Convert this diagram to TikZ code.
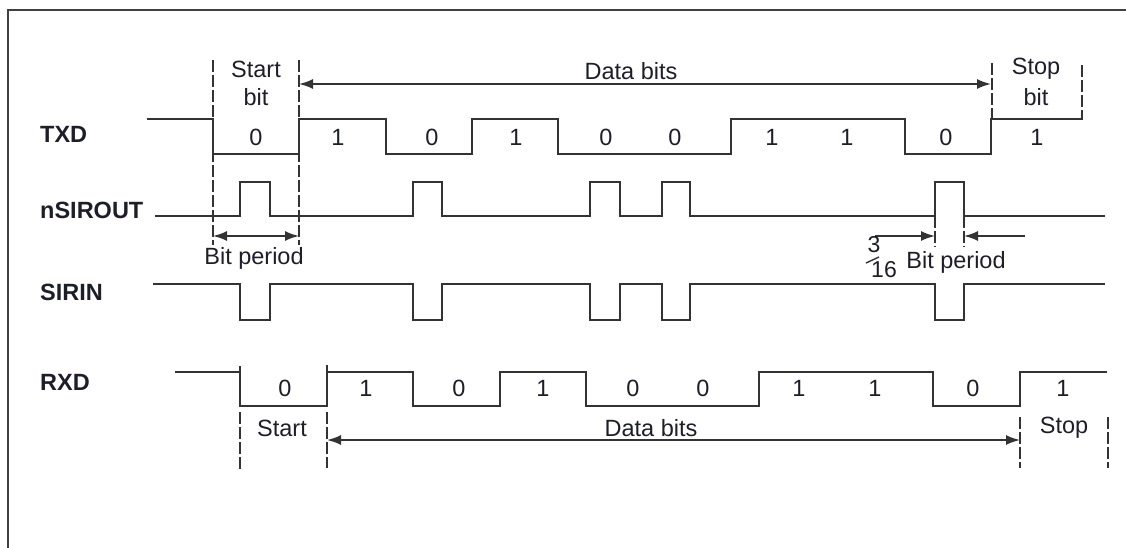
\documentclass[tikz,border=0pt]{standalone}
\usepackage{fontspec}
\setmainfont{Liberation Sans}
\usetikzlibrary{arrows.meta}
\definecolor{wavecol}{HTML}{333333}
\definecolor{txtcol}{HTML}{1E1E2A}
\definecolor{framecol}{HTML}{404040}
\begin{document}
\begin{tikzpicture}[x=1pt,y=-1pt,
  wave/.style={line width=2pt, draw=wavecol},
  guide/.style={line width=1.6pt, draw=wavecol, dash pattern=on 12pt off 3pt},
  dimline/.style={line width=1.8pt, draw=wavecol, {Latex[length=14pt,width=10pt]}-{Latex[length=14pt,width=10pt]}},
  dimone/.style={line width=1.8pt, draw=wavecol, -{Latex[length=14pt,width=10pt]}},
  sig/.style={font=\fontsize{23.5}{28}\selectfont\bfseries, anchor=west, text=txtcol, inner sep=0pt},
  lbl/.style={font=\fontsize{23.5}{27}\selectfont, text=txtcol, inner sep=0pt},
  fraclbl/.style={font=\fontsize{23}{26}\selectfont, text=txtcol, inner sep=0pt},
]
\useasboundingbox (0,0) rectangle (1126,548);
% frame (cropped)
\draw[line width=2pt, draw=framecol] (8,548) -- (8,10) -- (1126,10);

% signal names
\node[sig] (ltxd) at (40,134) {TXD};
\node[sig] (lnsir) at (40,210) {nSIROUT};
\node[sig] (lsirin) at (40,292) {SIRIN};
\node[sig] (lrxd) at (40,382) {RXD};

% guides (dashed)
\draw[guide] (213,60) -- (213,245);
\draw[guide] (299,60) -- (299,245);
\draw[guide] (992,63) -- (992,119);
\draw[guide] (1082,65) -- (1082,120);
\draw[guide] (935,216) -- (935,247);
\draw[guide] (964,216) -- (964,247);
\draw[guide] (240,412) -- (240,470);
\draw[guide] (327,412) -- (327,468);
\draw[guide] (1020,417) -- (1020,468);
\draw[guide] (1108,417) -- (1108,468);
\draw[wave] (240,366) -- (240,372);
\draw[wave] (327,365) -- (327,372);

% TXD
\draw[wave] (147,119) -- (213,119) -- (213,154) -- (299,154) -- (299,119) -- (386,119) -- (386,154) -- (472,154) -- (472,119) -- (558,119) -- (558,154) -- (731,154) -- (731,119) -- (905,119) -- (905,154) -- (991,154) -- (991,119) -- (1081,119);

% nSIROUT
\draw[wave] (155,216) -- (240,216) -- (240,182) -- (270,182) -- (270,216) -- (413,216) -- (413,182) -- (442,182) -- (442,216) -- (590,216) -- (590,182) -- (620,182) -- (620,216) -- (662,216) -- (662,182) -- (690,182) -- (690,216) -- (935,216) -- (935,182) -- (964,182) -- (964,216) -- (1105,216);

% SIRIN
\draw[wave] (153,284) -- (240,284) -- (240,320) -- (270,320) -- (270,284) -- (413,284) -- (413,320) -- (442,320) -- (442,284) -- (590,284) -- (590,320) -- (620,320) -- (620,284) -- (662,284) -- (662,320) -- (690,320) -- (690,284) -- (935,284) -- (935,320) -- (964,320) -- (964,284) -- (1105,284);

% RXD
\draw[wave] (175,372) -- (240,372) -- (240,406) -- (327,406) -- (327,372) -- (413,372) -- (413,406) -- (500,406) -- (500,372) -- (586,372) -- (586,406) -- (759,406) -- (759,372) -- (933,372) -- (933,406) -- (1020,406) -- (1020,372) -- (1107,372);

% TXD bit values
\foreach \x/\v [count=\i] in {256/0,338/1,432/0,516/1,606/0,675/0,772/1,847/1,946/0,1037/1}
  \node[lbl] (tb\i) at (\x,137) {\v};
% RXD bit values
\foreach \x/\v [count=\i] in {285/0,366/1,459/0,543/1,633/0,703/0,799/1,875/1,973/0,1063/1}
  \node[lbl] (rb\i) at (\x,388) {\v};

% top labels
\node[lbl] (startA) at (256,69) {Start};
\node[lbl] (startB) at (256,97) {bit};
\node[lbl] (stopA) at (1036,69) {Stop};
\node[lbl] (stopB) at (1036,97) {bit};
\node[lbl] (dtop) at (631,71) {Data bits};

% dimension arrows
\coordinate (dt1) at (299,84); \coordinate (dt2) at (991,84);
\draw[dimline] (dt1) -- (dt2);
\coordinate (bp1) at (213,236); \coordinate (bp2) at (299,236);
\draw[dimline] (bp1) -- (bp2);
\node[lbl] (bptxt) at (254,258) {Bit period};

\coordinate (f1) at (875,236); \coordinate (f2) at (935,236);
\coordinate (g1) at (1025,236); \coordinate (g2) at (964,236);
\draw[dimone] (f1) -- (f2);
\draw[dimone] (g1) -- (g2);
\node[fraclbl] (fr3) at (874,245) {3};
\node[fraclbl] (fr16) at (884,270) {16};
\coordinate (sl1) at (866,263); \coordinate (sl2) at (879,257);
\draw[line width=1.4pt, draw=wavecol] (sl1) -- (sl2);
\node[lbl] (bp2txt) at (956,262) {Bit period};

% RXD bottom labels
\node[lbl] (rstart) at (282,428) {Start};
\node[lbl] (rdata) at (651,428) {Data bits};
\node[lbl] (rstop) at (1064,428) {Stop};
\coordinate (rd1) at (327,440); \coordinate (rd2) at (1020,440);
\draw[dimline] (rd1) -- (rd2);
\end{tikzpicture}
\end{document}
